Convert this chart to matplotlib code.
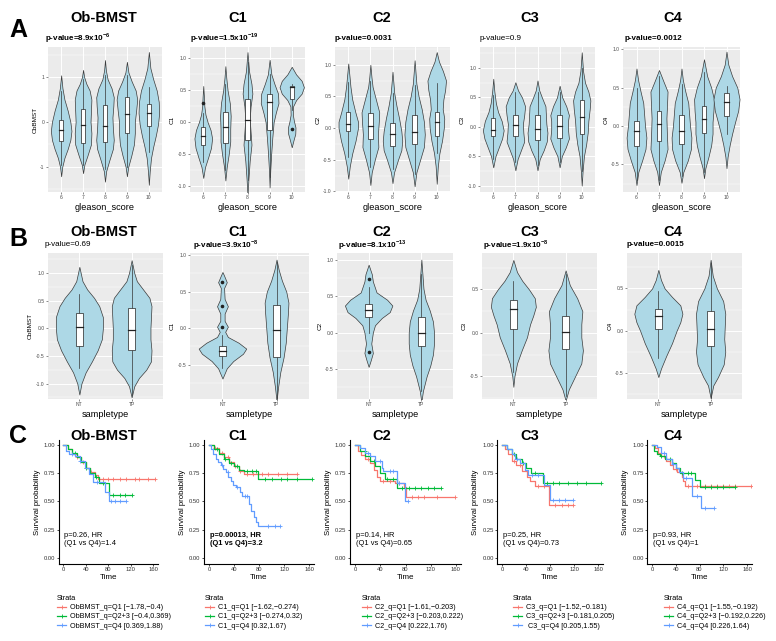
import numpy as np
import matplotlib
matplotlib.use('Agg')
import matplotlib.pyplot as plt
from matplotlib.lines import Line2D
from matplotlib.patches import Rectangle
from matplotlib.ticker import MultipleLocator, FormatStrFormatter

plt.rcParams['font.family'] = ['Liberation Sans', 'DejaVu Sans']
plt.rcParams['mathtext.fontset'] = 'custom'
plt.rcParams['mathtext.rm'] = 'Liberation Sans'
plt.rcParams['mathtext.bf'] = 'Liberation Sans:bold'

# ---------------- data ----------------
PANELS = ['Ob-BMST', 'C1', 'C2', 'C3', 'C4']
YLABELS = ['ObBMST', 'C1', 'C2', 'C3', 'C4']
GLEASON = ['6', '7', '8', '9', '10']
SAMPLE = ['NT', 'TP']

A_PVAL = [r'p-value=8.9x10$^{\mathbf{-6}}$', r'p-value=1.5x10$^{\mathbf{-19}}$',
          'p-value=0.0031', 'p-value=0.9', 'p-value=0.0012']
A_BOLD = [True, True, True, False, True]
B_PVAL = ['p-value=0.69', r'p-value=3.9x10$^{\mathbf{-8}}$', r'p-value=8.1x10$^{\mathbf{-13}}$',
          r'p-value=1.9x10$^{\mathbf{-8}}$', 'p-value=0.0015']
B_BOLD = [False, True, True, True, True]

# violin outlines: (value, half width in category units), read bottom to top
A_OB_PROF = [
    [(-1.21, 0), (-1.0, 0.05), (-0.8, 0.15), (-0.6, 0.3), (-0.4, 0.42), (-0.2, 0.47), (0.0, 0.42), (0.25, 0.3), (0.5, 0.15), (0.75, 0.06), (1.04, 0)],
    [(-1.14, 0), (-0.95, 0.06), (-0.75, 0.2), (-0.5, 0.36), (-0.25, 0.38), (0.0, 0.34), (0.25, 0.36), (0.5, 0.38), (0.7, 0.3), (0.85, 0.15), (1.0, 0.05), (1.16, 0)],
    [(-1.33, 0), (-1.1, 0.05), (-0.85, 0.2), (-0.6, 0.36), (-0.4, 0.4), (-0.15, 0.36), (0.1, 0.34), (0.35, 0.38), (0.55, 0.4), (0.75, 0.3), (0.95, 0.12), (1.15, 0.04), (1.38, 0)],
    [(-1.21, 0), (-1.0, 0.06), (-0.75, 0.2), (-0.5, 0.32), (-0.25, 0.36), (0.0, 0.36), (0.25, 0.42), (0.5, 0.47), (0.7, 0.4), (0.9, 0.22), (1.1, 0.07), (1.34, 0)],
    [(-1.4, 0), (-1.1, 0.04), (-0.8, 0.1), (-0.55, 0.2), (-0.3, 0.32), (-0.05, 0.42), (0.2, 0.47), (0.45, 0.45), (0.7, 0.36), (0.95, 0.2), (1.2, 0.07), (1.56, 0)],
]
A_C1_PROF = [
    [(-0.87, 0), (-0.7, 0.08), (-0.55, 0.22), (-0.4, 0.35), (-0.25, 0.4), (-0.12, 0.33), (0.0, 0.2), (0.12, 0.1), (0.25, 0.05), (0.4, 0.03), (0.57, 0)],
    [(-0.91, 0), (-0.7, 0.06), (-0.5, 0.15), (-0.3, 0.22), (-0.1, 0.22), (0.1, 0.24), (0.3, 0.2), (0.5, 0.1), (0.7, 0.04), (0.88, 0)],
    [(-1.15, 0), (-0.9, 0.04), (-0.6, 0.1), (-0.35, 0.18), (-0.15, 0.14), (0.05, 0.1), (0.25, 0.14), (0.45, 0.22), (0.6, 0.18), (0.8, 0.07), (1.1, 0)],
    [(-1.02, 0), (-0.75, 0.03), (-0.5, 0.07), (-0.25, 0.12), (0.0, 0.18), (0.15, 0.28), (0.3, 0.4), (0.45, 0.38), (0.6, 0.22), (0.75, 0.08), (0.98, 0)],
    [(-0.39, 0), (-0.28, 0.08), (-0.18, 0.16), (-0.08, 0.17), (0.02, 0.1), (0.12, 0.05), (0.25, 0.06), (0.35, 0.2), (0.45, 0.45), (0.55, 0.55), (0.65, 0.45), (0.75, 0.2), (0.87, 0)],
]
A_C2_PROF = [
    [(-0.8, 0), (-0.6, 0.07), (-0.4, 0.18), (-0.2, 0.33), (0.0, 0.44), (0.1, 0.44), (0.25, 0.32), (0.45, 0.18), (0.65, 0.1), (0.8, 0.06), (1.02, 0)],
    [(-0.9, 0), (-0.7, 0.06), (-0.5, 0.2), (-0.3, 0.36), (-0.1, 0.34), (0.1, 0.38), (0.25, 0.4), (0.45, 0.25), (0.65, 0.1), (0.8, 0.05), (1.0, 0)],
    [(-0.87, 0), (-0.7, 0.07), (-0.5, 0.25), (-0.35, 0.4), (-0.2, 0.44), (-0.05, 0.4), (0.15, 0.3), (0.35, 0.18), (0.55, 0.08), (0.89, 0)],
    [(-0.92, 0), (-0.7, 0.08), (-0.5, 0.25), (-0.3, 0.42), (-0.1, 0.46), (0.1, 0.42), (0.3, 0.32), (0.5, 0.18), (0.7, 0.08), (1.07, 0)],
    [(-0.88, 0), (-0.6, 0.05), (-0.4, 0.12), (-0.2, 0.24), (0.0, 0.32), (0.15, 0.34), (0.3, 0.27), (0.45, 0.3), (0.6, 0.38), (0.75, 0.42), (0.9, 0.28), (1.05, 0.1), (1.2, 0)],
]
A_C3_PROF = [
    [(-0.69, 0), (-0.5, 0.1), (-0.35, 0.25), (-0.2, 0.4), (-0.06, 0.47), (0.1, 0.38), (0.25, 0.22), (0.4, 0.12), (0.6, 0.05), (0.82, 0)],
    [(-0.74, 0), (-0.55, 0.1), (-0.4, 0.25), (-0.25, 0.4), (-0.1, 0.36), (0.05, 0.34), (0.2, 0.4), (0.35, 0.44), (0.5, 0.3), (0.62, 0.12), (0.76, 0)],
    [(-0.74, 0), (-0.55, 0.1), (-0.4, 0.28), (-0.25, 0.42), (-0.1, 0.45), (0.05, 0.4), (0.2, 0.38), (0.35, 0.36), (0.5, 0.2), (0.62, 0.08), (0.79, 0)],
    [(-0.69, 0), (-0.5, 0.1), (-0.35, 0.28), (-0.2, 0.42), (-0.05, 0.38), (0.1, 0.38), (0.2, 0.42), (0.35, 0.3), (0.5, 0.12), (0.7, 0)],
    [(-1.0, 0), (-0.75, 0.04), (-0.5, 0.1), (-0.3, 0.2), (-0.1, 0.27), (0.1, 0.3), (0.3, 0.36), (0.45, 0.39), (0.6, 0.3), (0.75, 0.15), (0.95, 0.06), (1.27, 0)],
]
A_C4_PROF = [
    [(-0.77, 0), (-0.6, 0.08), (-0.45, 0.25), (-0.3, 0.4), (-0.15, 0.44), (0.0, 0.38), (0.15, 0.34), (0.3, 0.3), (0.45, 0.18), (0.6, 0.07), (0.75, 0)],
    [(-0.77, 0), (-0.6, 0.08), (-0.45, 0.25), (-0.3, 0.38), (-0.1, 0.35), (0.1, 0.33), (0.3, 0.36), (0.45, 0.38), (0.58, 0.2), (0.73, 0)],
    [(-0.74, 0), (-0.6, 0.08), (-0.45, 0.28), (-0.3, 0.42), (-0.15, 0.44), (0.0, 0.38), (0.15, 0.34), (0.3, 0.3), (0.45, 0.17), (0.6, 0.06), (0.75, 0)],
    [(-0.68, 0), (-0.55, 0.06), (-0.4, 0.2), (-0.25, 0.32), (-0.1, 0.38), (0.05, 0.38), (0.2, 0.42), (0.35, 0.44), (0.5, 0.32), (0.65, 0.14), (0.87, 0)],
    [(-0.55, 0), (-0.4, 0.05), (-0.25, 0.14), (-0.1, 0.25), (0.05, 0.38), (0.2, 0.52), (0.35, 0.58), (0.5, 0.48), (0.65, 0.25), (0.8, 0.08), (0.97, 0)],
]
# box stats: (lower whisker, q1, median, q3, upper whisker)
A_OB_BOX = [(-0.95, -0.42, -0.18, 0.04, 0.7), (-0.95, -0.46, -0.07, 0.30, 0.95), (-1.05, -0.44, -0.10, 0.38, 1.05),
            (-1.0, -0.25, 0.17, 0.56, 1.05), (-0.66, -0.09, 0.19, 0.41, 0.77)]
A_C1_BOX = [(-0.62, -0.35, -0.22, -0.07, 0.15), (-0.75, -0.32, -0.07, 0.16, 0.6), (-0.9, -0.28, 0.04, 0.37, 0.95),
            (-0.85, -0.12, 0.32, 0.45, 0.75), (0.2, 0.37, 0.55, 0.57, 0.6)]
A_C2_BOX = [(-0.45, -0.05, 0.06, 0.26, 0.72), (-0.62, -0.18, 0.03, 0.23, 0.75), (-0.65, -0.28, -0.10, 0.08, 0.55),
            (-0.72, -0.25, -0.07, 0.20, 0.68), (-0.4, -0.12, 0.10, 0.26, 0.71)]
A_C3_BOX = [(-0.55, -0.16, -0.06, 0.15, 0.55), (-0.6, -0.16, 0.03, 0.20, 0.6), (-0.65, -0.22, -0.03, 0.20, 0.6),
            (-0.6, -0.19, 0.01, 0.20, 0.6), (-0.75, -0.12, 0.17, 0.46, 1.0)]
A_C4_BOX = [(-0.7, -0.26, -0.07, 0.07, 0.5), (-0.7, -0.20, 0.02, 0.20, 0.65), (-0.65, -0.23, -0.07, 0.15, 0.55),
            (-0.6, -0.09, 0.09, 0.26, 0.7), (-0.1, 0.13, 0.31, 0.43, 0.52)]
A_OUT = [[[], [], [], [], []], [[0.30], [], [], [], [-0.10]], [[], [], [], [], []],
         [[], [], [], [], []], [[], [], [], [], []]]

B_OB_PROF = [
    [(-1.2, 0), (-1.0, 0.04), (-0.8, 0.12), (-0.6, 0.24), (-0.4, 0.35), (-0.2, 0.43), (0.0, 0.45), (0.2, 0.45), (0.4, 0.38),
     (0.55, 0.28), (0.7, 0.15), (0.85, 0.06), (1.11, 0)],
    [(-1.25, 0), (-1.05, 0.05), (-0.9, 0.14), (-0.75, 0.28), (-0.6, 0.37), (-0.4, 0.38), (-0.2, 0.36), (0.0, 0.36), (0.2, 0.37),
     (0.4, 0.38), (0.55, 0.34), (0.7, 0.22), (0.85, 0.1), (1.0, 0.05), (1.23, 0)],
]
B_C1_PROF = [
    [(-0.69, 0), (-0.55, 0.08), (-0.45, 0.2), (-0.35, 0.38), (-0.28, 0.44), (-0.2, 0.3), (-0.12, 0.1), (-0.05, 0.05), (0.02, 0.1),
     (0.1, 0.04), (0.2, 0.04), (0.3, 0.1), (0.4, 0.04), (0.55, 0.03), (0.63, 0.08), (0.72, 0.03), (0.77, 0)],
    [(-1.0, 0), (-0.8, 0.03), (-0.6, 0.07), (-0.4, 0.13), (-0.2, 0.17), (0.0, 0.19), (0.2, 0.21), (0.35, 0.22), (0.5, 0.18),
     (0.65, 0.1), (0.8, 0.04), (0.94, 0)],
]
B_C2_PROF = [
    [(-0.47, 0), (-0.38, 0.04), (-0.28, 0.08), (-0.15, 0.05), (0.0, 0.08), (0.1, 0.12), (0.2, 0.25), (0.28, 0.4), (0.37, 0.45),
     (0.45, 0.35), (0.55, 0.15), (0.7, 0.08), (0.8, 0.06), (0.93, 0)],
    [(-0.95, 0), (-0.8, 0.03), (-0.6, 0.1), (-0.45, 0.17), (-0.3, 0.22), (-0.15, 0.24), (0.0, 0.24), (0.15, 0.22), (0.3, 0.16),
     (0.45, 0.08), (0.6, 0.04), (0.8, 0.02), (1.0, 0)],
]
B_C3_PROF = [
    [(-0.62, 0), (-0.5, 0.02), (-0.35, 0.07), (-0.2, 0.16), (-0.05, 0.26), (0.1, 0.32), (0.2, 0.38), (0.3, 0.43), (0.4, 0.41),
     (0.5, 0.3), (0.6, 0.17), (0.7, 0.07), (0.84, 0)],
    [(-0.78, 0), (-0.65, 0.06), (-0.5, 0.18), (-0.35, 0.3), (-0.2, 0.33), (-0.05, 0.3), (0.1, 0.3), (0.25, 0.32), (0.4, 0.22),
     (0.55, 0.08), (0.72, 0)],
]
B_C4_PROF = [
    [(-0.55, 0), (-0.45, 0.05), (-0.3, 0.15), (-0.15, 0.26), (0.0, 0.35), (0.1, 0.42), (0.2, 0.46), (0.3, 0.42), (0.4, 0.26),
     (0.5, 0.12), (0.6, 0.05), (0.72, 0)],
    [(-0.8, 0), (-0.65, 0.05), (-0.55, 0.14), (-0.4, 0.25), (-0.25, 0.28), (-0.1, 0.26), (0.05, 0.27), (0.2, 0.28), (0.35, 0.24),
     (0.5, 0.12), (0.65, 0.04), (0.84, 0)],
]
B_OB_BOX = [(-0.72, -0.32, 0.03, 0.28, 0.62), (-1.2, -0.39, -0.03, 0.37, 1.15)]
B_C1_BOX = [(-0.55, -0.38, -0.31, -0.24, -0.1), (-0.95, -0.40, -0.03, 0.32, 0.9)]
B_C2_BOX = [(0.0, 0.22, 0.31, 0.39, 0.62), (-0.8, -0.18, 0.0, 0.22, 0.8)]
B_C3_BOX = [(-0.45, 0.04, 0.27, 0.38, 0.6), (-0.72, -0.18, 0.01, 0.20, 0.68)]
B_C4_BOX = [(-0.32, 0.02, 0.17, 0.26, 0.47), (-0.8, -0.18, 0.02, 0.23, 0.8)]
B_OUT = [[[], []], [[0.02, 0.30, 0.63], []], [[0.74, -0.27], []], [[], []], [[], []]]

# Kaplan-Meier step curves (Q1, Q2+3, Q4): step times, survival after step, last follow-up, censor times
KM_OB_T = [[0, 8, 16, 24, 32, 40, 48, 56, 62], [0, 8, 16, 24, 32, 40, 48, 56, 64, 82],
           [0, 4, 10, 20, 30, 38, 45, 52, 74, 82]]
KM_OB_S = [[1.0, 0.96, 0.92, 0.89, 0.85, 0.80, 0.76, 0.73, 0.70], [1.0, 0.96, 0.93, 0.89, 0.85, 0.80, 0.75, 0.72, 0.66, 0.56],
           [1.0, 0.95, 0.92, 0.90, 0.86, 0.80, 0.74, 0.67, 0.58, 0.50]]
KM_OB_END = [163, 122, 112]
KM_OB_CENS = [[25, 35, 50, 70, 80, 88, 100, 112, 128, 135, 150, 163], [20, 40, 58, 70, 88, 100, 110, 122],
              [15, 30, 60, 85, 92, 100, 112]]

KM_C1_T = [[0, 8, 16, 24, 32, 40, 48, 56], [0, 8, 16, 24, 32, 40, 48, 56, 78],
           [0, 3, 7, 11, 15, 19, 23, 27, 31, 35, 39, 43, 50, 53, 64, 67, 72, 75, 79]]
KM_C1_S = [[1.0, 0.97, 0.93, 0.89, 0.85, 0.81, 0.77, 0.74], [1.0, 0.96, 0.92, 0.88, 0.84, 0.81, 0.78, 0.77, 0.70],
           [1.0, 0.96, 0.92, 0.88, 0.85, 0.82, 0.79, 0.76, 0.72, 0.68, 0.65, 0.63, 0.58, 0.55, 0.48, 0.42, 0.36, 0.32, 0.28]]
KM_C1_END = [140, 164, 114]
KM_C1_CENS = [[10, 20, 30, 42, 50, 60, 70, 85, 95, 110, 125, 140], [12, 25, 35, 45, 60, 68, 75, 90, 100, 115, 125, 140, 164],
              [20, 30, 45, 58, 60, 95, 105, 114]]

KM_C2_T = [[0, 5, 10, 16, 24, 30, 35, 40, 63, 77, 80], [0, 8, 16, 24, 32, 40, 48, 66],
           [0, 8, 16, 24, 32, 42, 45, 66, 79]]
KM_C2_S = [[1.0, 0.95, 0.91, 0.88, 0.84, 0.78, 0.72, 0.68, 0.66, 0.63, 0.54], [1.0, 0.95, 0.90, 0.86, 0.81, 0.75, 0.70, 0.62],
           [1.0, 0.97, 0.93, 0.90, 0.86, 0.80, 0.77, 0.66, 0.50]]
KM_C2_END = [158, 137, 84]
KM_C2_CENS = [[20, 45, 55, 70, 90, 100, 110, 130, 158], [15, 30, 50, 60, 75, 85, 95, 105, 115, 125, 137],
              [20, 40, 55, 60, 70, 84]]

KM_C3_T = [[0, 5, 10, 16, 24, 33, 41, 47, 55, 78], [0, 8, 16, 24, 33, 40, 48, 69],
           [0, 8, 16, 22, 30, 38, 44, 70, 80]]
KM_C3_S = [[1.0, 0.96, 0.92, 0.86, 0.82, 0.77, 0.72, 0.68, 0.64, 0.47], [1.0, 0.96, 0.92, 0.88, 0.84, 0.80, 0.75, 0.66],
           [1.0, 0.96, 0.92, 0.88, 0.84, 0.78, 0.73, 0.65, 0.51]]
KM_C3_END = [118, 165, 119]
KM_C3_CENS = [[20, 30, 60, 70, 88, 100, 110, 118], [20, 35, 55, 75, 85, 95, 110, 125, 140, 165],
              [25, 50, 60, 85, 95, 105, 119]]

KM_C4_T = [[0, 5, 10, 16, 24, 30, 36, 42, 50, 53, 56], [0, 4, 8, 14, 22, 33, 40, 47, 72, 81],
           [0, 8, 16, 24, 33, 40, 46, 52, 67, 83]]
KM_C4_S = [[1.0, 0.97, 0.93, 0.90, 0.86, 0.82, 0.79, 0.76, 0.72, 0.68, 0.64], [1.0, 0.95, 0.92, 0.90, 0.88, 0.84, 0.80, 0.75, 0.69, 0.63],
           [1.0, 0.98, 0.93, 0.88, 0.83, 0.80, 0.76, 0.71, 0.55, 0.44]]
KM_C4_END = [167, 140, 104]
KM_C4_CENS = [[20, 40, 60, 75, 90, 100, 110, 120, 130, 140, 167], [15, 30, 50, 60, 65, 90, 100, 110, 120, 140],
              [20, 35, 58, 75, 90, 104]]

KM_NOTE = ['p=0.26, HR\n(Q1 vs Q4)=1.4', 'p=0.00013, HR\n(Q1 vs Q4)=3.2', 'p=0.14, HR\n(Q1 vs Q4)=0.65',
           'p=0.25, HR\n(Q1 vs Q4)=0.73', 'p=0.93, HR\n(Q1 vs Q4)=1']
KM_NOTE_BOLD = [False, True, False, False, False]

STRATA = [
    ['ObBMST_q=Q1 [\u22121.78,\u22120.4)', 'ObBMST_q=Q2+3 [\u22120.4,0.369)', 'ObBMST_q=Q4 [0.369,1.88)'],
    ['C1_q=Q1 [\u22121.62,\u22120.274)', 'C1_q=Q2+3 [\u22120.274,0.32)', 'C1_q=Q4 [0.32,1.67)'],
    ['C2_q=Q1 [\u22121.61,\u22120.203)', 'C2_q=Q2+3 [\u22120.203,0.222)', 'C2_q=Q4 [0.222,1.76)'],
    ['C3_q=Q1 [\u22121.52,\u22120.181)', 'C3_q=Q2+3 [\u22120.181,0.205)', ' C3_q=Q4 [0.205,1.55)'],
    ['C4_q=Q1 [\u22121.55,\u22120.192)', 'C4_q=Q2+3 [\u22120.192,0.226)', 'C4_q=Q4 [0.226,1.64)'],
]

# ---------------- layout ----------------
W, H = 776, 641
fig = plt.figure(figsize=(W / 100, H / 100), dpi=100)
KM_COLORS = ['#F8766D', '#00BA38', '#619CFF']
FILL = '#ADD8E6'


def add_ax(x0, x1, y0, y1):
    return fig.add_axes([x0 / W, 1 - y1 / H, (x1 - x0) / W, (y1 - y0) / H])


def style_gg(ax, ylim, major, minor, cats, ylabel, xlabel):
    ax.set_facecolor('#EBEBEB')
    for sp in ax.spines.values():
        sp.set_visible(False)
    ax.set_ylim(*ylim)
    ax.set_xlim(-0.6, len(cats) - 0.4)
    ax.set_xticks(range(len(cats)))
    ax.set_xticklabels(cats)
    ax.yaxis.set_major_locator(MultipleLocator(major))
    ax.yaxis.set_minor_locator(MultipleLocator(minor))
    ax.yaxis.set_major_formatter(FormatStrFormatter('%g' if major == 1 else '%.1f'))
    ax.grid(True, which='major', color='white', lw=0.7)
    ax.grid(True, which='minor', axis='y', color='white', lw=0.35)
    ax.set_axisbelow(True)
    ax.tick_params(which='major', length=1.5, width=0.4, color='#333333', labelsize=3.6,
                   labelcolor='#4D4D4D', pad=1)
    ax.tick_params(which='minor', length=0)
    ax.set_ylabel(ylabel, fontsize=4.6, labelpad=2)
    ax.set_xlabel(xlabel, fontsize=6.6, labelpad=2)


def draw_violins(ax, profiles, boxes, outliers, bw):
    for i, prof in enumerate(profiles):
        ys = np.array([p[0] for p in prof])
        ws = np.array([p[1] for p in prof])
        ax.fill_betweenx(ys, i - ws, i + ws, facecolor=FILL, edgecolor='#3A3A3A', lw=0.5, zorder=2)
        wl, q1, med, q3, wh = boxes[i]
        ax.plot([i, i], [wl, q1], color='#333333', lw=0.5, zorder=3)
        ax.plot([i, i], [q3, wh], color='#333333', lw=0.5, zorder=3)
        ax.add_patch(Rectangle((i - bw / 2, q1), bw, q3 - q1, facecolor='white',
                               edgecolor='#222222', lw=0.5, zorder=3))
        ax.plot([i - bw / 2, i + bw / 2], [med, med], color='#222222', lw=0.9, zorder=4)
        for o in outliers[i]:
            ax.plot(i, o, 'o', ms=1.6, color='#222222', zorder=4)


def draw_km(ax, times, survs, ends, cens):
    for t, s, e, cs, col in zip(times, survs, ends, cens, KM_COLORS):
        ax.step(list(t) + [e], list(s) + [s[-1]], where='post', color=col, lw=0.9)
        idx = np.searchsorted(t, cs, side='right') - 1
        ax.plot(cs, np.array(s)[idx], '+', color=col, ms=3, mew=0.6, ls='none')
    ax.set_xlim(-8, 168)
    ax.set_ylim(-0.053, 1.044)
    for sp in ['top', 'right']:
        ax.spines[sp].set_visible(False)
    for sp in ['left', 'bottom']:
        ax.spines[sp].set_linewidth(0.8)
    ax.set_xticks([0, 40, 80, 120, 160])
    ax.set_yticks([0, 0.25, 0.5, 0.75, 1.0])
    ax.set_yticklabels(['0.00', '0.25', '0.50', '0.75', '1.00'])
    ax.tick_params(length=1.5, width=0.5, labelsize=4.2, labelcolor='#333333', pad=1)
    ax.set_ylabel('Survival probability', fontsize=5.6, labelpad=2)
    ax.set_xlabel('Time', fontsize=5.8, labelpad=1)


TITLE_X = [104, 238, 382, 530, 673]

# Row A
A_X = [(48, 162), (190, 305), (335, 450), (480, 595), (623, 740)]
A_YLIM = [(-1.56, 1.67), (-1.09, 1.18), (-1.01, 1.28), (-1.11, 1.36), (-0.86, 1.03)]
A_MAJOR = [1, 0.5, 0.5, 0.5, 0.5]
A_PROFS = [A_OB_PROF, A_C1_PROF, A_C2_PROF, A_C3_PROF, A_C4_PROF]
A_BOXES = [A_OB_BOX, A_C1_BOX, A_C2_BOX, A_C3_BOX, A_C4_BOX]
A_PX = [45, 190, 335, 480, 625]
for k in range(5):
    ax = add_ax(A_X[k][0], A_X[k][1], 47, 192)
    style_gg(ax, A_YLIM[k], A_MAJOR[k], A_MAJOR[k] / 2, GLEASON, YLABELS[k], 'gleason_score')
    draw_violins(ax, A_PROFS[k], A_BOXES[k], A_OUT[k], 0.2)
    fig.text(TITLE_X[k] / W, 1 - 18 / H, PANELS[k], fontsize=10.5, fontweight='bold', ha='center', va='center')
    fig.text(A_PX[k] / W, 1 - 38 / H, A_PVAL[k], fontsize=5.8,
             fontweight='bold' if A_BOLD[k] else 'normal', ha='left', va='center')

# Row B
B_X = [(48, 163), (190, 309), (337, 453), (482, 597), (627, 742)]
B_YLIM = [(-1.28, 1.36), (-0.97, 1.03), (-0.91, 1.09), (-0.76, 0.92), (-0.81, 0.92)]
B_MAJOR = [0.5, 0.5, 0.5, 0.5, 0.5]
B_PROFS = [B_OB_PROF, B_C1_PROF, B_C2_PROF, B_C3_PROF, B_C4_PROF]
B_BOXES = [B_OB_BOX, B_C1_BOX, B_C2_BOX, B_C3_BOX, B_C4_BOX]
B_PX = [45, 193, 338, 483, 627]
for k in range(5):
    ax = add_ax(B_X[k][0], B_X[k][1], 253, 399)
    style_gg(ax, B_YLIM[k], B_MAJOR[k], B_MAJOR[k] / 2, SAMPLE, YLABELS[k], 'sampletype')
    draw_violins(ax, B_PROFS[k], B_BOXES[k], B_OUT[k], 0.13)
    fig.text(TITLE_X[k] / W, 1 - 232 / H, PANELS[k], fontsize=10.5, fontweight='bold', ha='center', va='center')
    fig.text(B_PX[k] / W, 1 - 245 / H, B_PVAL[k], fontsize=5.8,
             fontweight='bold' if B_BOLD[k] else 'normal', ha='left', va='center')

# Row C
C_X = [(58.8, 157.8), (204, 314), (350, 461), (497.2, 602.8), (647.2, 751.8)]
KM_T = [KM_OB_T, KM_C1_T, KM_C2_T, KM_C3_T, KM_C4_T]
KM_S = [KM_OB_S, KM_C1_S, KM_C2_S, KM_C3_S, KM_C4_S]
KM_END = [KM_OB_END, KM_C1_END, KM_C2_END, KM_C3_END, KM_C4_END]
KM_CENS = [KM_OB_CENS, KM_C1_CENS, KM_C2_CENS, KM_C3_CENS, KM_C4_CENS]
LEG_X = [57, 205, 362, 513, 664]
for k in range(5):
    ax = add_ax(C_X[k][0], C_X[k][1], 440, 564)
    draw_km(ax, KM_T[k], KM_S[k], KM_END[k], KM_CENS[k])
    ax.text(2, 0.165, KM_NOTE[k], fontsize=5.4, ha='left', va='center', linespacing=1.3,
            fontweight='bold' if KM_NOTE_BOLD[k] else 'normal')
    fig.text(TITLE_X[k] / W, 1 - 436 / H, PANELS[k], fontsize=10.5, fontweight='bold', ha='center', va='center')
    handles = [Line2D([], [], color=c, marker='+', ms=3, mew=0.6, lw=0.9) for c in KM_COLORS]
    leg = fig.legend(handles, STRATA[k], loc='upper left', bbox_to_anchor=(LEG_X[k] / W, 1 - 595 / H),
                     title='Strata', alignment='left', frameon=False, fontsize=5.2, title_fontsize=5.2,
                     handlelength=1.3, handletextpad=0.5, labelspacing=0.3, borderaxespad=0, borderpad=0)

# panel letters
for lab, y in zip(['A', 'B', 'C'], [30, 239, 436]):
    fig.text(9 / W, 1 - y / H, lab, fontsize=18, fontweight='bold', ha='left', va='center')

fig.savefig('out.png', dpi=100)
